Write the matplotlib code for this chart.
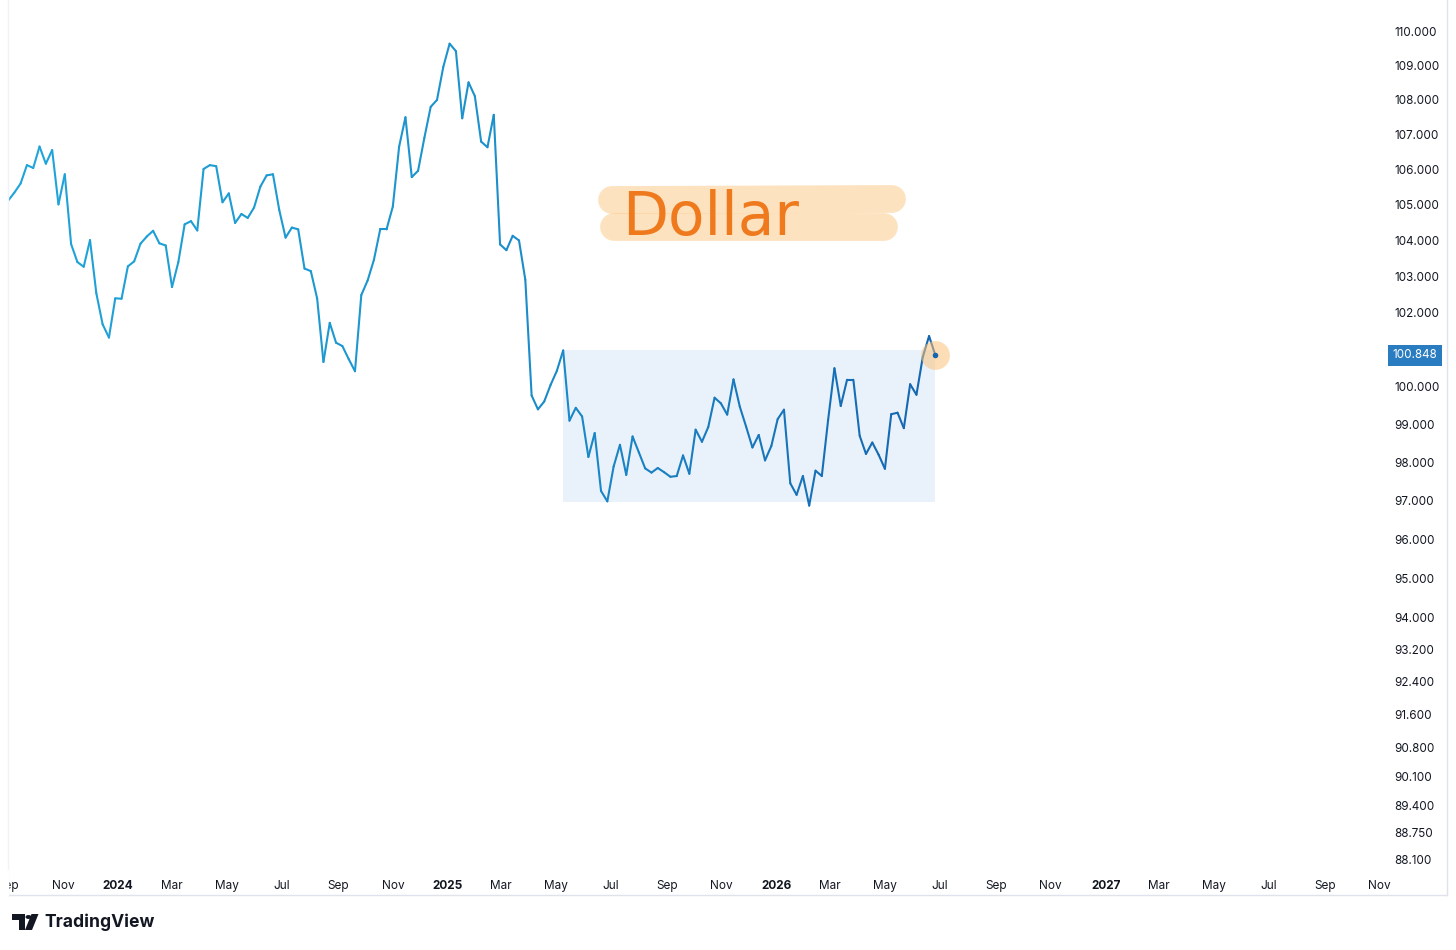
import matplotlib.pyplot as plt
import matplotlib.dates as mdates
import matplotlib.transforms as mtransforms
import numpy as np
import pandas as pd
from matplotlib.collections import LineCollection
from matplotlib.colors import LinearSegmentedColormap
from matplotlib.patches import Polygon, Circle
from matplotlib.ticker import NullLocator

W, H = 1456, 950

# weekly closes of the dollar index
dxy_close = [
    104.60, 105.11, 105.34, 105.60, 106.12, 106.04, 106.65, 106.16, 106.55, 105.01,
    105.86, 103.90, 103.40, 103.27, 104.01, 102.54, 101.69, 101.33, 102.40, 102.39,
    103.28, 103.42, 103.91, 104.11, 104.27, 103.92, 103.86, 102.71, 103.40, 104.45,
    104.54, 104.28, 106.01, 106.12, 106.09, 105.07, 105.32, 104.49, 104.74, 104.63,
    104.92, 105.51, 105.83, 105.86, 104.85, 104.08, 104.36, 104.31, 103.22, 103.15,
    102.40, 100.67, 101.73, 101.19, 101.10, 100.75, 100.42, 102.49, 102.89, 103.46,
    104.31, 104.31, 104.95, 106.65, 107.49, 105.78, 105.96, 106.90, 107.79, 107.99,
    108.95, 109.63, 109.41, 107.46, 108.50, 108.10, 106.79, 106.63, 107.56, 103.89,
    103.73, 104.13, 104.00, 102.91, 99.77, 99.40, 99.61, 100.05, 100.43, 100.98,
    99.10, 99.44, 99.21, 98.14, 98.77, 97.25, 96.98, 97.89, 98.46, 97.67,
    98.68, 98.26, 97.84, 97.73, 97.85, 97.74, 97.62, 97.64, 98.18, 97.70,
    98.86, 98.54, 98.93, 99.71, 99.56, 99.26, 100.20, 99.47, 98.94, 98.39,
    98.72, 98.05, 98.43, 99.14, 99.39, 97.45, 97.15, 97.64, 96.87, 97.78,
    97.64, 99.12, 100.50, 99.49, 100.19, 100.19, 98.70, 98.22, 98.52, 98.20,
    97.83, 99.27, 99.31, 98.90, 100.07, 99.79, 100.80, 101.37, 100.848,
]
last_week = "2026-06-26"

# range box drawn on the chart
range_low = 96.95
range_high = 100.98
range_start = 89  # index into dxy_close

price_ticks = [110, 109, 108, 107, 106, 105, 104, 103, 102, 101, 100, 99, 98, 97,
               96, 95, 94, 93.2, 92.4, 91.6, 90.8, 90.1, 89.4, 88.75, 88.1]
x_start, x_end = "2023-09-01", "2027-11-08"
y_bottom, y_top = 87.86, 110.92

TXT = "#131722"
BORDER = "#e0e3eb"

dates = pd.date_range(end=last_week, periods=len(dxy_close), freq="7D")
xs = mdates.date2num(dates)
ys = np.array(dxy_close)


def px(x, y):
    # pixel (top-left origin) -> figure fraction
    return (x / W, 1 - y / H)


fig = plt.figure(figsize=(W / 100, H / 100), dpi=100)
fig.patch.set_facecolor("white")
ax = fig.add_axes([8 / W, 1 - 870 / H, (1386 - 8) / W, 870 / H])
ax.set_facecolor("white")
for s in ax.spines.values():
    s.set_visible(False)

ax.set_yscale("log")
ax.set_ylim(y_bottom, y_top)
ax.set_xlim(mdates.datestr2num(x_start), mdates.datestr2num(x_end))

# range rectangle
ax.fill_between([xs[range_start], xs[-1]], range_low, range_high,
                color="#1e7ad9", alpha=0.095, lw=0, zorder=1)

# price line with a soft colour gradient
cmap = LinearSegmentedColormap.from_list("tv", ["#20a5da", "#1c92cd", "#1566b0"])
pts = np.column_stack([xs, ys]).reshape(-1, 1, 2)
segs = np.concatenate([pts[:-1], pts[1:]], axis=1)
lc = LineCollection(segs, colors=cmap(np.linspace(0, 1, len(segs))), linewidths=1.5,
                    capstyle="round", joinstyle="round", zorder=3)
ax.add_collection(lc)

# last value marker
ax.scatter([xs[-1]], [ys[-1]], s=430, color="#fbc17a", alpha=0.55, lw=0, zorder=4)
ax.scatter([xs[-1]], [ys[-1]], s=16, color="#1565b0", lw=0, zorder=5)

# y axis (right)
ax.yaxis.tick_right()
ax.yaxis.set_minor_locator(NullLocator())
ax.set_yticks(price_ticks)
ax.set_yticklabels([f"{v:.3f}" for v in price_ticks])
ax.tick_params(axis="y", length=0, pad=6, labelsize=8.4, labelcolor=TXT)

# x axis
tick_dates = pd.date_range("2023-09-01", "2027-11-01", freq="2MS")
ax.set_xticks(mdates.date2num(tick_dates))
ax.set_xticklabels([str(d.year) if d.month == 1 else d.strftime("%b") for d in tick_dates])
ax.tick_params(axis="x", length=0, pad=7, labelsize=8.5, labelcolor=TXT)
for lab, d in zip(ax.get_xticklabels(), tick_dates):
    lab.set_fontfamily(["Inter", "DejaVu Sans"])
    if d.month == 1:
        lab.set_fontweight("bold")
for lab in ax.get_yticklabels():
    lab.set_fontfamily(["Inter", "DejaVu Sans"])

# last price tag
blend = mtransforms.blended_transform_factory(ax.transAxes, ax.transData)
ax.text(1.0045, ys[-1], f"{dxy_close[-1]:.3f}", transform=blend, ha="left", va="center",
        fontsize=8.4, color="white", family=["Inter", "DejaVu Sans"], clip_on=False, zorder=10,
        bbox=dict(boxstyle="square,pad=0.4", fc="#2a7cc0", ec="none"))

# hand drawn "Dollar" note with highlighter strokes
for (x0, y0), (x1, y1) in [((612, 200), (892, 199)), ((614, 227), (884, 227))]:
    (fx0, fy0), (fx1, fy1) = px(x0, y0), px(x1, y1)
    fig.add_artist(plt.Line2D([fx0, fx1], [fy0, fy1], transform=fig.transFigure,
                              color="#fbbf72", alpha=0.45, lw=20, solid_capstyle="round"))
fig.text(*px(711, 219), "Dollar", ha="center", va="center", fontsize=43,
         color="#ef7a1e", family="DejaVu Sans")

# pane borders
fig.add_artist(plt.Line2D([px(1447, 0)[0]] * 2, [px(0, 0)[1], px(0, 895)[1]],
                          transform=fig.transFigure, color=BORDER, lw=1))
fig.add_artist(plt.Line2D([px(8, 0)[0], px(1447, 0)[0]], [px(0, 895)[1]] * 2,
                          transform=fig.transFigure, color=BORDER, lw=1))
fig.add_artist(plt.Line2D([px(8, 0)[0]] * 2, [px(0, 0)[1], px(0, 895)[1]],
                          transform=fig.transFigure, color="#f0f2f6", lw=1))
# mask the cut-off first month label
fig.add_artist(plt.Rectangle(px(0, 895), 7.5 / W, 25 / H, transform=fig.transFigure,
                             color="white", zorder=20))

# TradingView logo
logo_bar = [px(12, 914), px(24.5, 914), px(24.5, 930), px(18.5, 930), px(18.5, 920), px(12, 920)]
logo_slash = [px(31.5, 914), px(38.5, 914), px(32, 930), px(25, 930)]
for shape in (logo_bar, logo_slash):
    fig.add_artist(Polygon(shape, closed=True, transform=fig.transFigure, color=TXT, lw=0))
fig.add_artist(Circle(px(28.5, 917), 3 / W, transform=fig.transFigure, color=TXT, lw=0))
fig.text(*px(44, 922), "TradingView", ha="left", va="center", fontsize=12.6,
         fontweight="bold", color=TXT, family=["Inter", "DejaVu Sans"])

fig.savefig("out.png", dpi=100, facecolor="white")
